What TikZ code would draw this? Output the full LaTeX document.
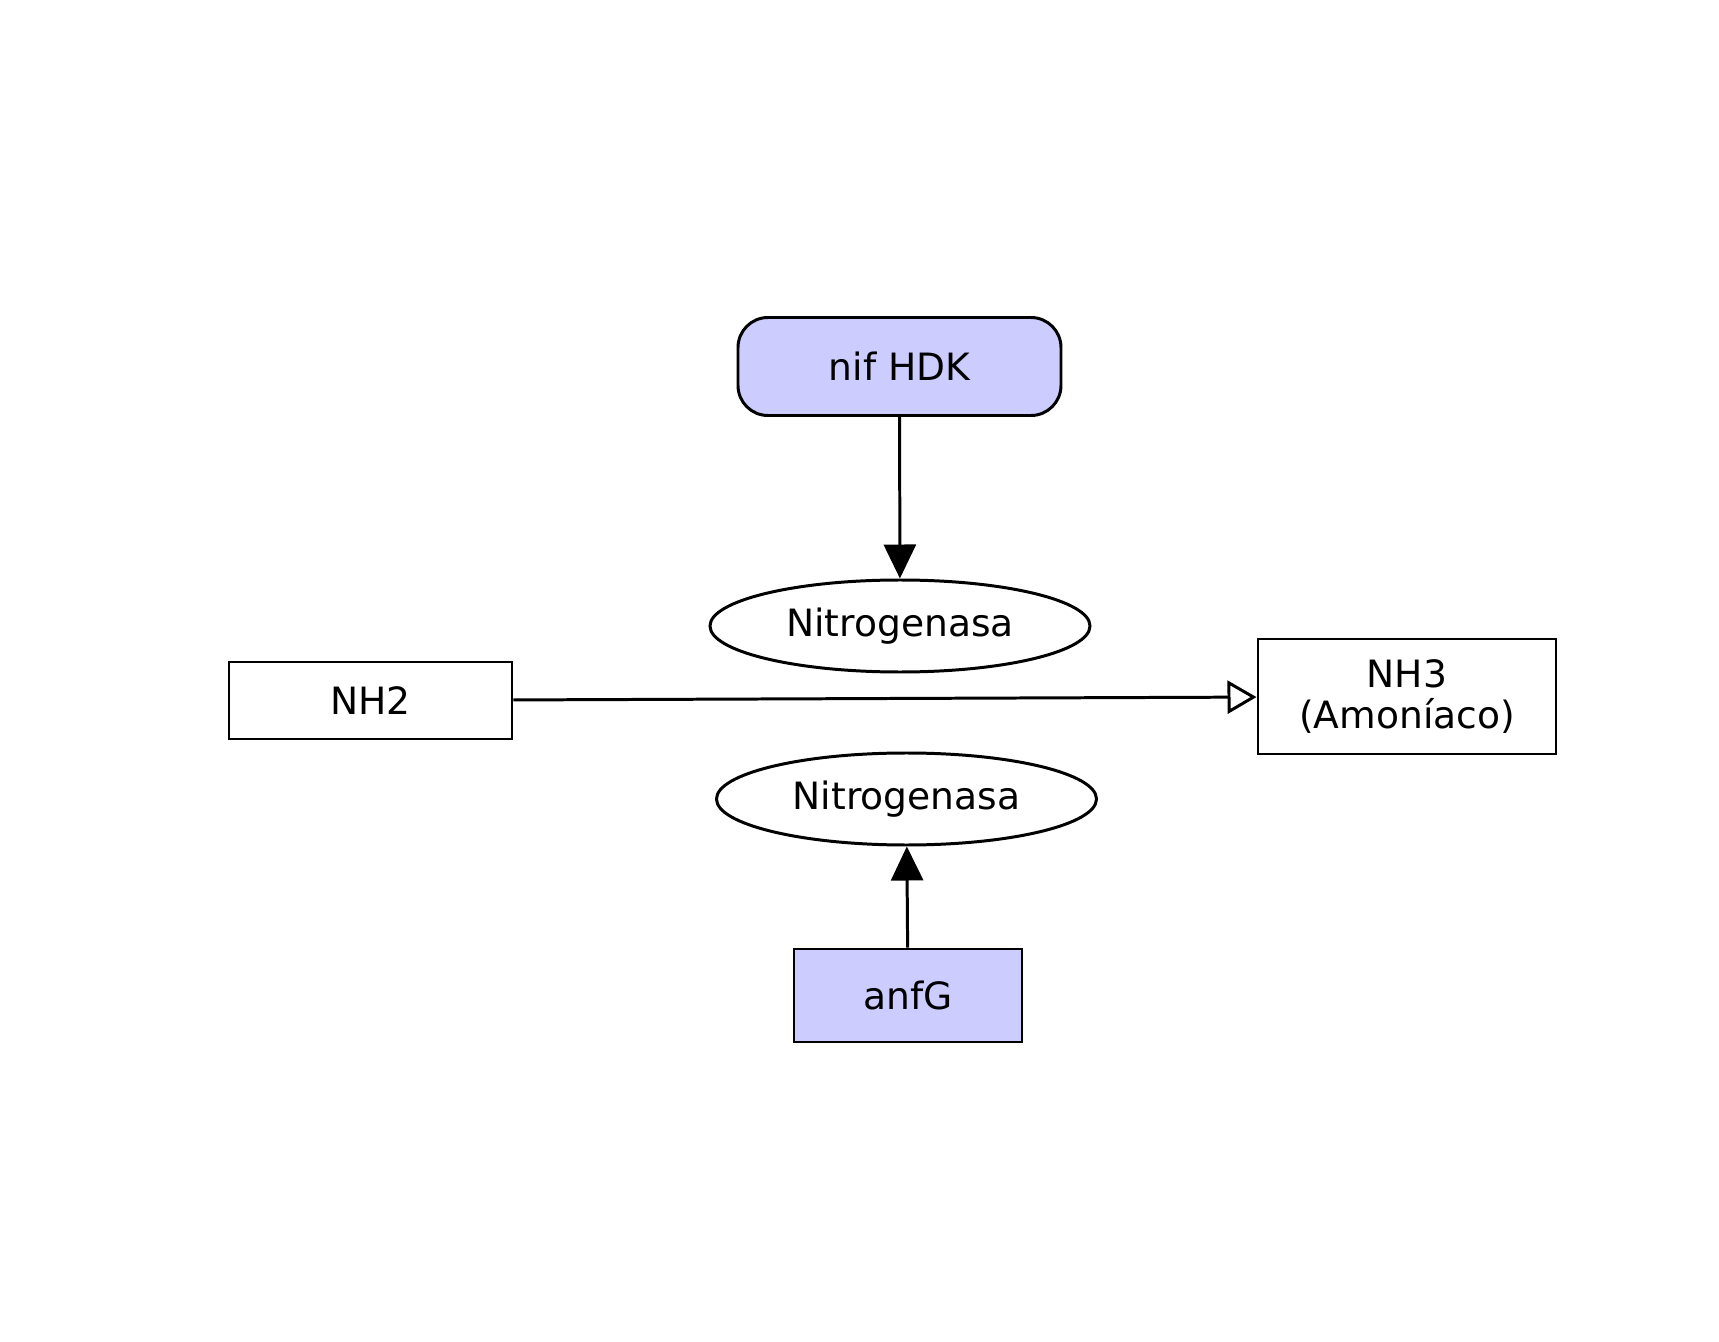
\documentclass[tikz,border=0pt]{standalone}
\usepackage{fontspec}
\setmainfont{DejaVu Sans}
\usetikzlibrary{
  positioning,
  arrows.meta,
  shapes.geometric
}
\definecolor{gnLav}{HTML}{CCCCFF}

\begin{document}
\begin{tikzpicture}[
  every node/.style={font=\fontsize{10.7pt}{11.5pt}\selectfont, align=center, inner sep=0pt},
  gene/.style={
    rectangle, rounded corners=0.3cm,
    draw=black, fill=gnLav, line width=0.85pt,
    minimum width=3.23cm, minimum height=0.98cm
  },
  genebox/.style={
    rectangle, draw=black, fill=gnLav, line width=0.85pt,
    minimum width=2.28cm, minimum height=0.93cm
  },
  enzyme/.style={
    ellipse, draw=black, line width=0.85pt,
    minimum width=3.80cm, minimum height=0.92cm
  },
  species/.style={
    rectangle, draw=black, line width=0.85pt
  },
  arrow/.style={-{Triangle[length=0.34cm, width=0.32cm]}, line width=0.85pt},
  product/.style={-{Triangle[open, fill=white, length=0.29cm, width=0.33cm]}, line width=0.85pt}
]
 \useasboundingbox (0,0) rectangle (17.19,13.41);

 % Genes and enzymes (centre column)
 \node[gene]    (nif)  at (8.995, 9.745) {nif HDK};
 \node[enzyme]  (nit1) at (9.00, 7.15)  {Nitrogenasa};
 \node[enzyme]  (nit2) at (9.065, 5.42) {Nitrogenasa};
 \node[genebox] (anf)  at (9.08, 3.455) {anfG};

 % Substrate and product
 \node[species, minimum width=2.83cm, minimum height=0.77cm] (nh2) at (3.705, 6.405) {NH2};
 \node[species, minimum width=2.98cm, minimum height=1.15cm] (nh3) at (14.07, 6.445) {NH3\\(Amoníaco)};

 \draw[arrow] (nif) -- (nit1);
 \draw[arrow] (anf) -- (nit2);
 \draw[product] (nh2) -- (nh3);
\end{tikzpicture}
\end{document}
